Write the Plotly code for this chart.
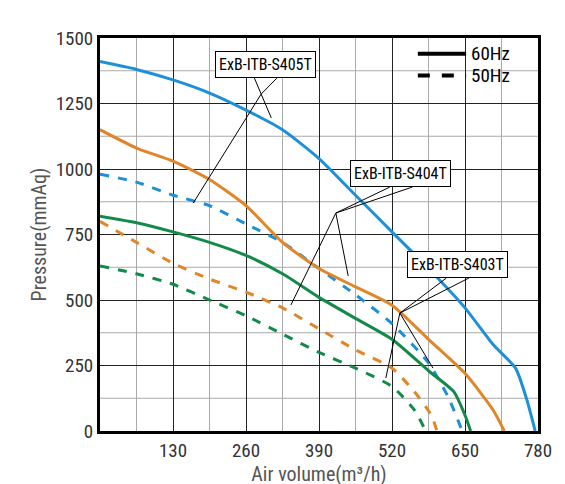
import plotly.graph_objects as go

blue_s_x=[0,65,130,195,260,325,390,455,520,585,650,700,740,760,775]
blue_s_y=[1410,1380,1340,1290,1225,1150,1040,900,760,620,470,330,240,120,0]
blue_d_x=[0,65,130,195,260,325,390,455,520,585,620,645]
blue_d_y=[980,950,900,860,790,720,620,520,410,260,130,0]
or_s_x=[0,65,130,195,260,325,390,455,520,585,650,700,720]
or_s_y=[1150,1080,1030,960,860,720,620,550,480,350,220,80,0]
or_d_x=[0,65,130,195,260,325,390,455,520,560,590,600]
or_d_y=[800,720,640,580,530,470,390,310,240,150,60,0]
gr_s_x=[0,65,130,195,260,325,390,455,520,585,630,650,660]
gr_s_y=[820,795,760,720,670,600,510,430,350,230,150,60,0]
gr_d_x=[0,65,130,195,260,325,390,455,520,560,580]
gr_d_y=[630,600,560,500,440,370,300,240,170,80,0]
xticks=[0,130,260,390,520,650,780]
yticks=[0,250,500,750,1000,1250,1500]
labels=["ExB-ITB-S405T","ExB-ITB-S404T","ExB-ITB-S403T"]

BLUE="#1e90d8"; ORANGE="#e0862a"; GREEN="#138a4a"
FONT="Liberation Sans Narrow, Roboto Condensed, Liberation Sans"
fig=go.Figure()
for x,y,c,d in [(blue_s_x,blue_s_y,BLUE,"solid"),(blue_d_x,blue_d_y,BLUE,"dash"),
                (or_s_x,or_s_y,ORANGE,"solid"),(or_d_x,or_d_y,ORANGE,"dash"),
                (gr_s_x,gr_s_y,GREEN,"solid"),(gr_d_x,gr_d_y,GREEN,"dash")]:
    fig.add_trace(go.Scatter(x=x,y=y,mode="lines",line=dict(color=c,width=3,dash=d,shape="spline",smoothing=0.6),showlegend=False))

shapes=[]
for v in range(65,780,130):
    shapes.append(dict(type="line",x0=v,x1=v,y0=0,y1=1500,line=dict(color="#aaaaaa",width=1),layer="below"))
for v in range(125,1500,250):
    shapes.append(dict(type="line",x0=0,x1=780,y0=v,y1=v,line=dict(color="#aaaaaa",width=1),layer="below"))
ann=[]
callouts=[(labels[0],295,1397,287,1286,[(305,1195),(166,870)]),
          (labels[1],536,981,420,832,[(442,592),(340,481)]),
          (labels[2],637,634,534,450,[(593,240),(509,202)])]
for t,bx,by,ax,ay,tg in callouts:
    for (tx,ty) in tg:
        shapes.append(dict(type="line",x0=ax,y0=ay,x1=tx,y1=ty,line=dict(color="black",width=1)))
    shapes.append(dict(type="line",x0=ax,y0=ay,x1=bx-20,y1=by-50,line=dict(color="black",width=1)))
    shapes.append(dict(type="line",x0=ax,y0=ay,x1=bx+20,y1=by-50,line=dict(color="black",width=1)))
    ann.append(dict(x=bx,y=by,text=t,showarrow=False,bgcolor="white",bordercolor="black",borderwidth=1,
                    borderpad=3,font=dict(size=16,color="black",family=FONT)))
shapes.append(dict(type="line",x0=566,x1=652,y0=1440,y1=1440,line=dict(color="black",width=4)))
shapes.append(dict(type="line",x0=566,x1=652,y0=1357,y1=1357,line=dict(color="black",width=4,dash="dash")))
ann.append(dict(x=658,y=1440,text="60Hz",showarrow=False,xanchor="left",font=dict(size=19,color="black",family=FONT)))
ann.append(dict(x=658,y=1357,text="50Hz",showarrow=False,xanchor="left",font=dict(size=19,color="black",family=FONT)))

fig.update_layout(width=565,height=484,margin=dict(l=92,r=35,t=30,b=61),
    plot_bgcolor="white",paper_bgcolor="white",shapes=shapes,annotations=ann,
    font=dict(family=FONT,color="#333333",size=19))
fig.update_xaxes(range=[0,780],tickvals=xticks[1:],ticktext=[str(v) for v in xticks[1:]],
    showgrid=True,gridcolor="#222222",gridwidth=1,showline=True,linecolor="black",linewidth=3,mirror=True,
    zeroline=False,ticks="",title=dict(text="Air volume(m³/h)",font=dict(size=20,color="#555555"),standoff=2))
fig.update_yaxes(range=[0,1500],tickvals=yticks,showgrid=True,gridcolor="#222222",gridwidth=1,
    showline=True,linecolor="black",linewidth=3,mirror=True,zeroline=False,ticks="",
    title=dict(text="Pressure(mmAq)",font=dict(size=20,color="#555555"),standoff=4))
fig.write_html("out.html")
